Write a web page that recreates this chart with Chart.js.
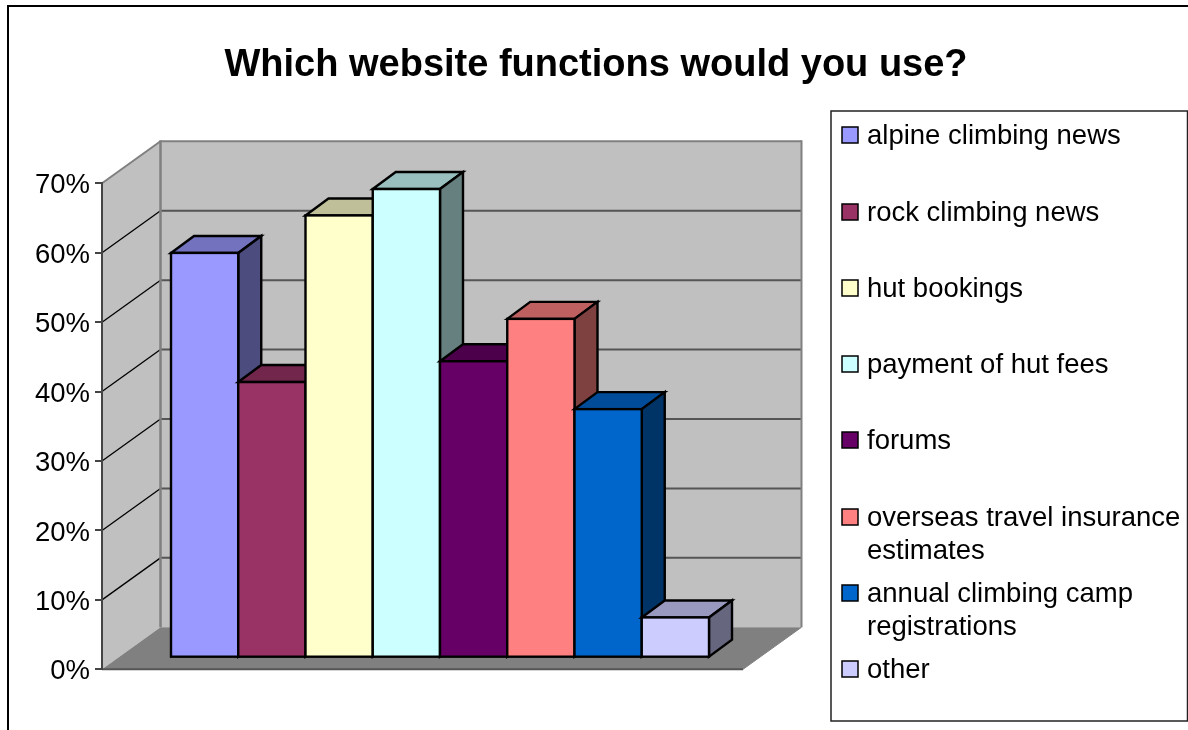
<!DOCTYPE html>
<html>
<head>
<meta charset="utf-8">
<style>html,body{margin:0;padding:0;background:#fff}canvas{display:block}</style>
<script src="https://cdn.jsdelivr.net/npm/chart.js@4/dist/chart.umd.js"></script>
</head>
<body>
<canvas id="c" width="1188" height="730"></canvas>
<script>
const titleText = 'Which website functions would you use?';
const categories = [''];
const seriesNames = ['alpine climbing news','rock climbing news','hut bookings','payment of hut fees','forums','overseas travel insurance estimates','annual climbing camp registrations','other'];
const legendLines = [['alpine climbing news'],['rock climbing news'],['hut bookings'],['payment of hut fees'],['forums'],['overseas travel insurance','estimates'],['annual climbing camp','registrations'],['other']];
const seriesValues = [58.3,39.7,63.7,67.5,42.7,48.8,35.8,5.8];
const seriesColors = ['#9999ff','#993366','#ffffcc','#ccffff','#660066','#ff8080','#0066cc','#ccccff'];
const tickValues = [0,10,20,30,40,50,60,70];

const FONT = '"Liberation Sans", Arial, sans-serif';
const WALL = {dx:58.5, dy:-42};
const BAR_SHIFT = {dx:17.5, dy:-11.6};
const BAR_DEPTH = {dx:23, dy:-17};
const legendY = [135,212,288,364,440,517,593,669];

function shade(hex,f){
  const n=parseInt(hex.slice(1),16);
  return `rgb(${((n>>16)&255)*f|0},${((n>>8)&255)*f|0},${(n&255)*f|0})`;
}
function poly(ctx,pts,fill,stroke,lw){
  ctx.beginPath();
  pts.forEach((p,i)=>i?ctx.lineTo(p[0],p[1]):ctx.moveTo(p[0],p[1]));
  ctx.closePath();
  if(fill){ctx.fillStyle=fill;ctx.fill();}
  if(stroke){ctx.strokeStyle=stroke;ctx.lineWidth=lw||1;ctx.lineJoin='miter';ctx.stroke();}
}
function line(ctx,x1,y1,x2,y2,color,lw){
  ctx.beginPath();ctx.moveTo(x1,y1);ctx.lineTo(x2,y2);ctx.strokeStyle=color;ctx.lineWidth=lw;ctx.stroke();
}

const scene = {
  id:'scene',
  afterLayout(chart){
    const t=chart.titleBlock;
    t.left=2;t.right=chart.width+2;t.width=chart.width;
  },
  beforeDraw(chart){
    const ctx=chart.ctx, y=chart.scales.y, a=chart.chartArea;
    const L=a.left,R=a.right,T=y.getPixelForValue(70),B=y.getPixelForValue(0);
    const bx=L+WALL.dx, by=WALL.dy;
    ctx.save();
    // outer frame
    line(ctx,8,6,1188,6,'#000',2);
    line(ctx,8,5,8,730,'#000',2);
    // walls and floor
    poly(ctx,[[bx,T+by],[R+WALL.dx,T+by],[R+WALL.dx,B+by],[bx,B+by]],'#c0c0c0');
    poly(ctx,[[L,T],[bx,T+by],[bx,B+by],[L,B]],'#c0c0c0');
    poly(ctx,[[L,B],[bx,B+by],[R+WALL.dx,B+by],[R,B]],'#808080');
    // gridlines from the value scale
    tickValues.forEach(v=>{
      const p=y.getPixelForValue(v);
      if(v>0&&v<70){
        line(ctx,L,p,bx,p+by,'#000',1.3);
        line(ctx,bx,p+by,R+WALL.dx,p+by,'#555',2);
      }
    });
    line(ctx,L,T,bx,T+by,'#808080',2);
    line(ctx,bx,T+by,R+WALL.dx,T+by,'#808080',2);
    line(ctx,bx,T+by-1,bx,B+by,'#808080',2.5);
    line(ctx,R+WALL.dx,T+by-1,R+WALL.dx,B+by,'#808080',2);
    line(ctx,L,B,R,B,'#555',2);
    line(ctx,R,B,R+WALL.dx,B+by,'#808080',1);
    // legend box
    ctx.strokeStyle='#222';ctx.lineWidth=1.5;
    ctx.strokeRect(831,111,356.5,610);
    ctx.textBaseline='middle';ctx.textAlign='left';ctx.font='27.5px '+FONT;
    legendLines.forEach((lines,i)=>{
      const cy=legendY[i];
      ctx.fillStyle=seriesColors[i];ctx.fillRect(842,cy-8,16,16);
      ctx.strokeStyle='#000';ctx.lineWidth=1.5;ctx.strokeRect(842,cy-8,16,16);
      ctx.fillStyle='#000';
      lines.forEach((s,j)=>ctx.fillText(s,867,cy+1+j*33));
    });
    ctx.restore();
  },
  beforeDatasetsDraw(chart){
    const ctx=chart.ctx;
    ctx.save();
    ctx.translate(BAR_SHIFT.dx,BAR_SHIFT.dy);
    chart.data.datasets.forEach((ds,i)=>{
      chart.getDatasetMeta(i).data.forEach(bar=>{
        const p=bar.getProps(['x','y','base','width'],true);
        const l=p.x-p.width/2,r=p.x+p.width/2,dx=BAR_DEPTH.dx,dy=BAR_DEPTH.dy;
        poly(ctx,[[l,p.y],[l+dx,p.y+dy],[r+dx,p.y+dy],[r,p.y]],shade(ds.backgroundColor,.75),'#000',2.4);
        poly(ctx,[[r,p.y],[r+dx,p.y+dy],[r+dx,p.base+dy],[r,p.base]],shade(ds.backgroundColor,.5),'#000',2.4);
        bar.draw(ctx);
        ctx.strokeStyle='#000';ctx.lineWidth=2.4;
        ctx.strokeRect(l,p.y,p.width,p.base-p.y);
      });
    });
    ctx.restore();
    return false;
  }
};

new Chart(document.getElementById('c'),{
  type:'bar',
  data:{
    labels:categories,
    datasets:seriesNames.map((n,i)=>({
      label:n,data:[seriesValues[i]],backgroundColor:seriesColors[i],borderWidth:0
    }))
  },
  options:{
    responsive:false,animation:false,
    categoryPercentage:538/641,barPercentage:1,
    layout:{padding:{left:0,right:445,top:0,bottom:60.7}},
    plugins:{
      legend:{display:false},tooltip:{enabled:false},
      title:{display:true,text:titleText,color:'#000',
        font:{family:FONT,size:38,weight:'bold',lineHeight:1.2},
        padding:{top:43,bottom:94.7}}
    },
    scales:{
      x:{display:false},
      y:{
        min:0,max:70,
        afterFit(s){s.width=102;},
        afterBuildTicks(s){s.ticks=tickValues.map(v=>({value:v}));},
        border:{color:'#444',width:2},
        grid:{drawOnChartArea:false,drawTicks:true,tickLength:7,color:'#444',lineWidth:2},
        ticks:{color:'#000',font:{family:FONT,size:27.5},padding:5,labelOffset:2.5,callback:v=>v+'%'}
      }
    }
  },
  plugins:[scene]
});
</script>
</body>
</html>
